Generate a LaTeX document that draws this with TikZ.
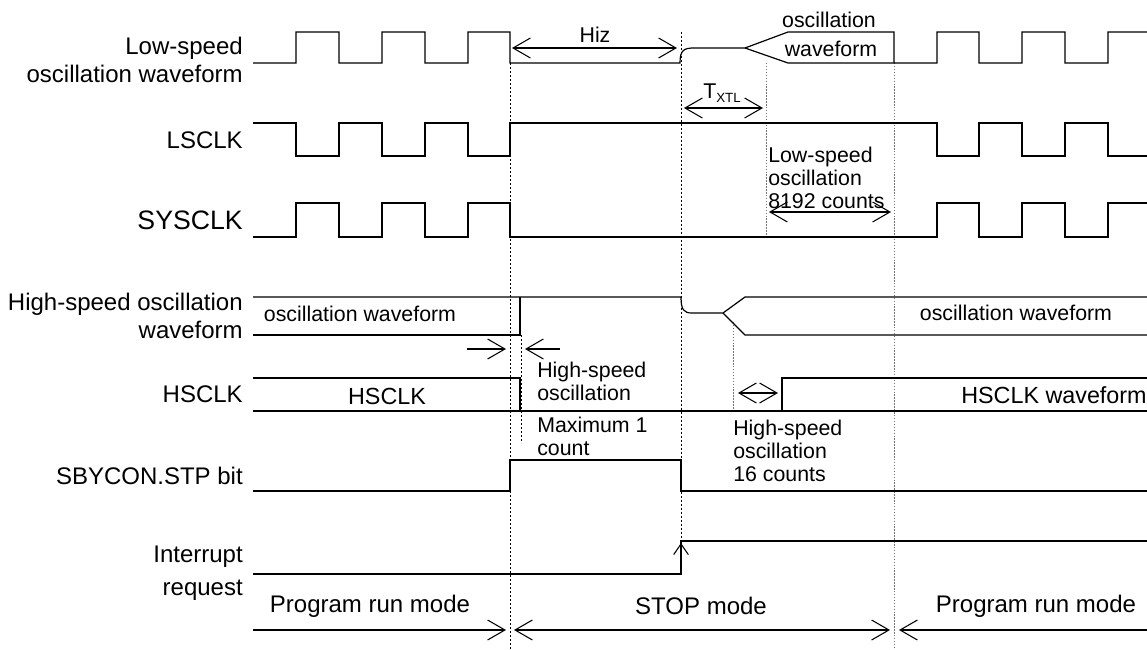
\documentclass[tikz,border=0pt]{standalone}
\usepackage{fontspec}
\setmainfont{Liberation Sans}
\usetikzlibrary{arrows.meta}
\colorlet{guidegray}{black!55}

\begin{document}
\begin{tikzpicture}[x=0.75pt,y=-0.75pt,
		sig/.style={line width=0.9pt},
		guide/.style={line width=0.6pt,dash pattern=on 1.6pt off 1.4pt},
		guidelt/.style={line width=0.7pt,guidegray,dash pattern=on 1.1pt off 1.1pt},
		dimarrow/.style={line width=0.8pt,{Straight Barb[length=13pt,width=15pt]}-{Straight Barb[length=13pt,width=15pt]}},
		toright/.style={line width=0.8pt,-{Straight Barb[length=13pt,width=15pt]}},
		lbl/.style={anchor=east,align=right,inner sep=0pt,font=\fontsize{18}{20.5}\selectfont},
		notetxt/.style={anchor=west,align=left,inner sep=0pt,font=\fontsize{16}{17.3}\selectfont},
		wtxt/.style={inner sep=0pt,font=\fontsize{16}{18}\selectfont},
		modetxt/.style={inner sep=0pt,font=\fontsize{18}{20}\selectfont}]

		\useasboundingbox (0,0) rectangle (1147,650);

		% signal names
		\node[lbl] (lsosc) at (243,60) {Low-speed\\oscillation waveform};
		\node[lbl] (lsclk) at (243,140) {LSCLK};
		\node[lbl,font=\fontsize{20}{22}\selectfont] (sysclk) at (243,220) {SYSCLK};
		\node[lbl] (hsosc) at (243,316) {High-speed oscillation\\waveform};
		\node[lbl] (hsclk) at (243,394) {HSCLK};
		\node[lbl] (stp) at (243,476) {SBYCON.STP bit};
		\node[lbl] (irq) at (243,573) {Interrupt\\[4pt]request};

		% guide lines
		\draw[guide] (510,63) -- (510,650);
		\draw[guide] (681,32) -- (681,541);
		\draw[guide] (521,335) -- (521,443);
		\draw[guidelt] (766,63) -- (766,237);
		\draw[guidelt] (733,322) -- (733,411);
		\draw[guidelt] (894,63) -- (894,650);

		% low-speed oscillation
		\draw[sig] (253,63) -| (296,32) -| (339,63) -| (382,32) -| (425,63) -| (468,32) -| (510,63)
			-- (680,63) .. controls (680,50) and (684,48) .. (694,48) -- (745,48) -- (788,32) -- (894,32) -- (894,63);
		\draw[sig] (745,48) -- (788,63) -| (937,32) -| (979,63) -| (1022,32) -| (1065,63) -| (1108,32) -- (1147,32);

		% LSCLK
		\draw[sig] (253,123) -| (296,156) -| (339,123) -| (382,156) -| (425,123) -| (468,156) -| (510,123)
			-| (937,156) -| (979,123) -| (1022,156) -| (1065,123) -| (1108,156) -- (1147,156);

		% SYSCLK
		\draw[sig] (253,237) -| (296,203) -| (339,237) -| (382,203) -| (425,237) -| (468,203) -| (510,237)
			-| (937,203) -| (979,237) -| (1022,203) -| (1065,237) -| (1108,203) -- (1147,203);

		% high-speed oscillation
		\draw[sig] (253,297) -- (681,297) .. controls (681,310) and (684,313) .. (692,313) -- (723,313) -- (745,297) -- (1147,297);
		\draw[sig] (723,313) -- (745,335) -- (1147,335);
		\draw[sig] (253,335) -| (520,297);

		% HSCLK
		\draw[sig] (253,378) -| (520,411);
		\draw[sig] (253,411) -- (1147,411);
		\draw[sig] (782,411) |- (1147,378);

		% SBYCON.STP
		\draw[sig] (253,491) -| (510,460) -| (681,491) -- (1147,491);

		% interrupt
		\draw[sig] (253,574) -| (681,541) -- (1147,541);
		\coordinate (irqlo) at (681,574);
		\coordinate (irqhi) at (681,543);
		\draw[line width=0.8pt,-{Straight Barb[length=8pt,width=11pt]}] (irqlo) -- (irqhi);

		% spans
		\coordinate (hizL) at (512,48);
		\coordinate (hizR) at (677,48);
		\draw[dimarrow] (hizL) -- (hizR);
		\coordinate (xtlL) at (684,108);
		\coordinate (xtlR) at (763,108);
		\draw[dimarrow] (xtlL) -- (xtlR);
		\coordinate (lscL) at (769,212);
		\coordinate (lscR) at (891,212);
		\draw[dimarrow] (lscL) -- (lscR);
		\coordinate (hscL) at (738,393);
		\coordinate (hscR) at (778,393);
		\draw[dimarrow] (hscL) -- (hscR);
		\coordinate (maxA) at (467,349);
		\coordinate (maxB) at (506,349);
		\coordinate (maxC) at (560,349);
		\coordinate (maxD) at (525,349);
		\draw[toright] (maxA) -- (maxB);
		\draw[toright] (maxC) -- (maxD);

		% modes
		\coordinate (runL) at (253,630);
		\coordinate (runR) at (506,630);
		\coordinate (stopL) at (514,630);
		\coordinate (stopR) at (890,630);
		\coordinate (run2L) at (899,630);
		\coordinate (run2R) at (1147,630);
		\draw[toright] (runL) -- (runR);
		\draw[dimarrow] (stopL) -- (stopR);
		\draw[toright] (run2R) -- (run2L);

		% labels
		\node[wtxt] (osctop) at (829,20) {oscillation};
		\node[wtxt] (wavtop) at (831,49) {waveform};
		\node[wtxt] (hiz) at (595,35) {Hiz};
		\node[wtxt] (txtl) at (722,93) {T\raisebox{-3pt}{\fontsize{10}{10}\selectfont XTL}};
		\node[notetxt] (lscnt) at (768,178) {Low-speed\\oscillation\\8192 counts};
		\node[wtxt] (hsw1) at (360,314) {oscillation waveform};
		\node[wtxt] (hsw2) at (1016,313) {oscillation waveform};
		\node[wtxt,font=\fontsize{17.5}{19}\selectfont] (hsclkin) at (387,396) {HSCLK};
		\node[wtxt,anchor=west,font=\fontsize{17.5}{19}\selectfont] (hsclkwav) at (961,395) {HSCLK waveform};
		\node[notetxt] (hsosc1) at (537,381) {High-speed\\oscillation};
		\node[notetxt] (maxcnt) at (537,436) {Maximum 1\\count};
		\node[notetxt] (hscnt) at (733,451) {High-speed\\oscillation\\16 counts};

		\node[modetxt] (mode1) at (370,606) {Program run mode};
		\node[modetxt] (mode2) at (701,606) {STOP mode};
		\node[modetxt] (mode3) at (1036,606) {Program run mode};
	\end{tikzpicture}
\end{document}
